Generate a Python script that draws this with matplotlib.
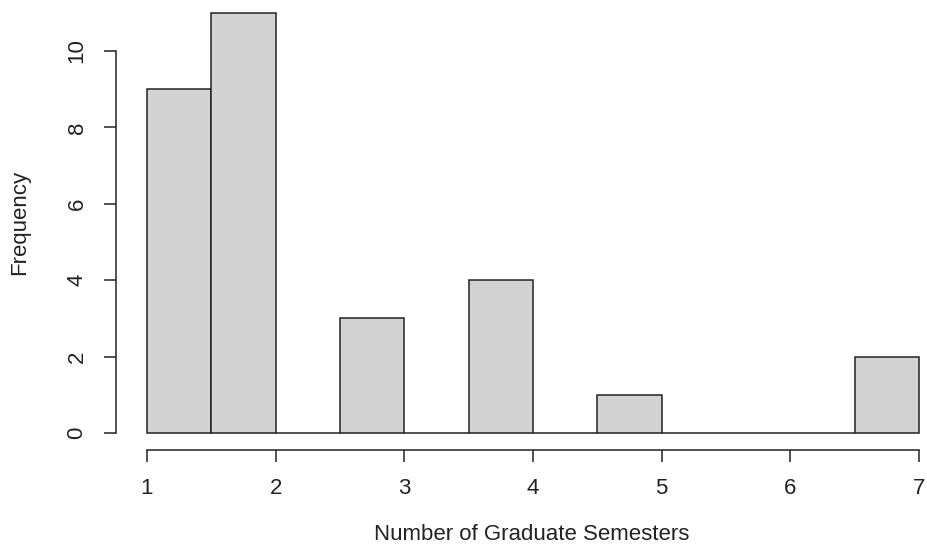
import numpy as np
import matplotlib.pyplot as plt

# histogram of graduate semesters (R style hist)
bin_edges = [1, 1.5, 2, 2.5, 3, 3.5, 4, 4.5, 5, 5.5, 6, 6.5, 7]
counts = [9, 11, 0, 3, 0, 4, 0, 1, 0, 0, 0, 2]
x_ticks = [1, 2, 3, 4, 5, 6, 7]
y_ticks = [0, 2, 4, 6, 8, 10]

plt.rcParams['font.family'] = ['Liberation Sans', 'DejaVu Sans']

fig = plt.figure(figsize=(9.27, 5.47), dpi=100)
W, H = 927, 547
# plot region in pixels (left, top, right, bottom); top/right are cropped off
l, t, r, b = 116, -4, 950, 449.8
ax = fig.add_axes([l / W, 1 - b / H, (r - l) / W, (b - t) / H])

widths = np.diff(bin_edges)
ax.bar(bin_edges[:-1], counts, width=widths, align='edge',
       color='#d3d3d3', edgecolor='#222222', linewidth=1.1)

ax.set_xlim(0.76, 7.24)
ax.set_ylim(-0.44, 11.44)

for s in ['top', 'right']:
    ax.spines[s].set_visible(False)
ax.spines['left'].set_bounds(0, 10)
ax.spines['bottom'].set_bounds(1, 7)
for s in ['left', 'bottom']:
    ax.spines[s].set_color('#222222')
    ax.spines[s].set_linewidth(1.1)

ax.set_xticks(x_ticks)
ax.set_yticks(y_ticks)
ax.set_yticklabels([str(v) for v in y_ticks], rotation=90, va='center')
ax.tick_params(axis='both', direction='out', length=8.5, width=1.1,
               color='#222222', labelsize=16, labelcolor='#222222')
ax.tick_params(axis='x', pad=12)
ax.tick_params(axis='y', pad=12)

fig.text(532 / W, 1 - 535 / H, 'Number of Graduate Semesters',
         ha='center', va='center', fontsize=16, color='#222222')
fig.text(20 / W, 1 - 222 / H, 'Frequency', rotation=90,
         ha='center', va='center', fontsize=16, color='#222222')

fig.savefig('out.png', dpi=100)
